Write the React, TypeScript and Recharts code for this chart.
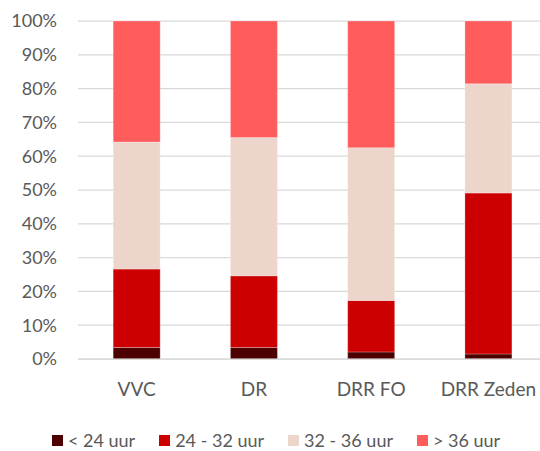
import { BarChart, Bar, XAxis, YAxis, CartesianGrid, Legend } from "recharts";

const categories = ["VVC", "DR", "DRR FO", "DRR Zeden"];
const under24 = [3.4, 3.4, 2.1, 1.5];
const from24to32 = [23.2, 21.2, 15.2, 47.6];
const from32to36 = [37.6, 40.9, 45.2, 32.3];
const over36 = [35.8, 34.5, 37.5, 18.6];
const yTicks = [0, 10, 20, 30, 40, 50, 60, 70, 80, 90, 100];

const seriesNames = ["< 24 uur", "24 - 32 uur", "32 - 36 uur", "> 36 uur"];
const seriesColors = ["#4d0000", "#cc0000", "#eed5cc", "#ff5c5c"];

const data = categories.map((name, i) => ({
  name,
  a: under24[i],
  b: from24to32[i],
  c: from32to36[i],
  d: over36[i],
}));

const FONT = "Lato, 'Open Sans', sans-serif";
const TEXT = "#595959";

const LegendBox = () => (
  <div
    style={{
      display: "flex",
      alignItems: "center",
      paddingLeft: 52,
      fontFamily: FONT,
      fontSize: 18,
      color: TEXT,
      lineHeight: "22px",
      height: 22,
      whiteSpace: "nowrap",
    }}
  >
    {seriesNames.map((n, i) => (
      <div
        key={n}
        style={{
          display: "flex",
          alignItems: "center",
          marginRight: i < seriesNames.length - 1 ? 24 : 0,
          flexShrink: 0,
        }}
      >
        <span
          style={{
            width: 11,
            height: 11,
            background: seriesColors[i],
            marginRight: 5,
            display: "inline-block",
            flexShrink: 0,
          }}
        />
        <span style={{ flexShrink: 0 }}>{n}</span>
      </div>
    ))}
  </div>
);

export default function App() {
  const keys = ["a", "b", "c", "d"];
  return (
    <div
      style={{
        position: "absolute",
        left: 0,
        top: 0,
        width: 540,
        height: 451,
        overflow: "hidden",
        background: "#fff",
      }}
    >
      <BarChart
        width={560}
        height={451}
        data={data}
        margin={{ top: 21, right: 13, left: 0, bottom: 0 }}
        barCategoryGap="30%"
      >
        <CartesianGrid
          vertical={false}
          stroke="#d9d9d9"
          strokeWidth={1.25}
        />
        <XAxis
          dataKey="name"
          tickLine={false}
          tickSize={0}
          tickMargin={24}
          height={70}
          axisLine={{ stroke: "#d9d9d9", strokeWidth: 1.25 }}
          tick={{ fontSize: 19, fill: TEXT, fontFamily: FONT }}
        />
        <YAxis
          domain={[0, 100]}
          ticks={yTicks}
          width={78}
          axisLine={false}
          tickLine={false}
          tickSize={0}
          tickMargin={21}
          interval={0}
          tickFormatter={(v) => `${v}%`}
          tick={{ fontSize: 18, fill: TEXT, fontFamily: FONT }}
        />
        <Legend
          verticalAlign="bottom"
          content={<LegendBox />}
          wrapperStyle={{ left: 0, width: 540, bottom: 0 }}
        />
        {keys.map((k, i) => (
          <Bar
            key={k}
            dataKey={k}
            name={seriesNames[i]}
            stackId="s"
            fill={seriesColors[i]}
            stroke="#ffffff"
            strokeOpacity={0.35}
            strokeWidth={0.75}
            isAnimationActive={false}
          />
        ))}
      </BarChart>
    </div>
  );
}
